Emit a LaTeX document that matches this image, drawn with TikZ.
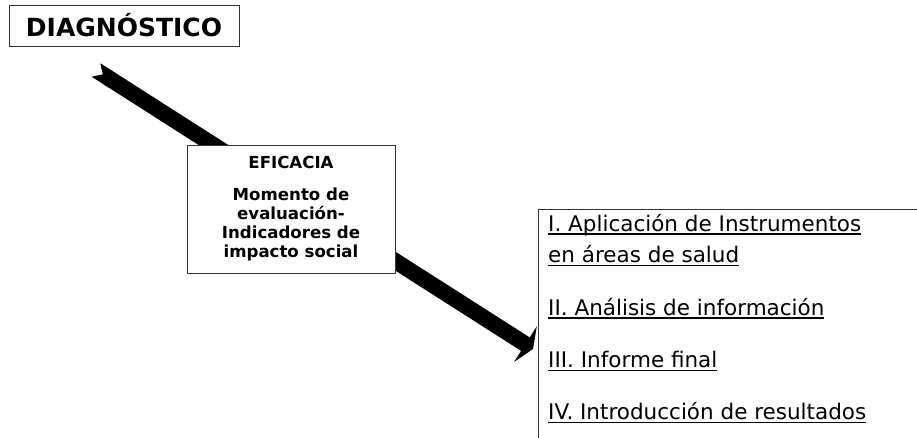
\documentclass[tikz,border=0pt]{standalone}
\usepackage{fontspec}
\setmainfont{DejaVu Sans}
\usetikzlibrary{arrows.meta,positioning}
\newcommand\undl[1]{\setbox0\hbox{#1}\rlap{\rule[-3.5pt]{\wd0}{1.2pt}}\box0}

\begin{document}
\begin{tikzpicture}[x=1pt, y=-1pt,
    box/.style={draw=black!80, line width=0.9pt, fill=white},
    item/.style={anchor=north west, inner sep=0pt, text height=16pt, text depth=5pt,
      font=\fontsize{21.5pt}{30pt}\selectfont}]
  \useasboundingbox (0,0) rectangle (917,438);
  \node[box, minimum width=230pt, minimum height=41pt, font=\fontsize{25pt}{30pt}\selectfont\bfseries] (diag) at (124,25.5) {DIAGNÓSTICO};
  \node[box, anchor=north west, minimum width=400pt, minimum height=240pt] (etapas) at (538,209) {};
  \coordinate (tail) at (96,70);
  \coordinate (tip) at (533,349);
  \draw[line width=16pt, {Triangle Cap[reversed]}-{Triangle[length=9pt,width=42pt]}] (tail) -- (tip);
  \node[box, minimum width=208pt, minimum height=128pt, align=center, font=\fontsize{16.6pt}{19pt}\selectfont\bfseries] (eficacia) at (291,209) {EFICACIA\\[13pt]Momento de\\evaluación-\\Indicadores de\\impacto social};
  \node[item] (i) at (548,215) {\undl{I. Aplicación de Instrumentos}};
  \node[item, below right=10pt and 0pt of i.south west] (i2) {\undl{en áreas de salud}};
  \node[item, below right=31pt and 0pt of i2.south west] (ii) {\undl{II. Análisis de información}};
  \node[item, below right=31pt and 0pt of ii.south west] (iii) {\undl{III. Informe final}};
  \node[item, below right=31pt and 0pt of iii.south west] (iv) {\undl{IV. Introducción de resultados}};
\end{tikzpicture}
\end{document}
